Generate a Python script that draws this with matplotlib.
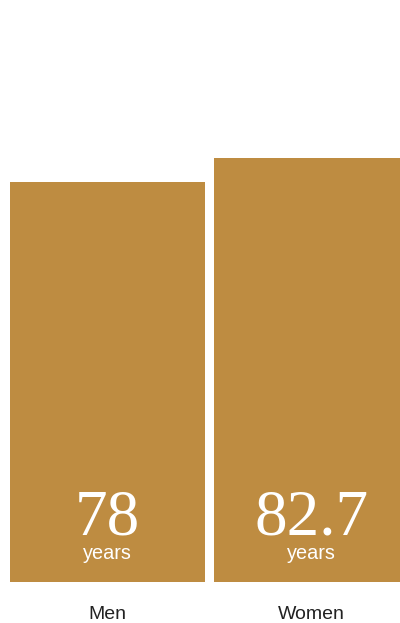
import numpy as np
import matplotlib.pyplot as plt

# Life expectancy at birth
groups = ["Men", "Women"]
life_expectancy = [78, 82.7]
value_labels = ["78", "82.7"]

BAR_COLOR = "#BE8C41"
TEXT_DARK = "#222222"

fig = plt.figure(figsize=(4, 6.23), dpi=100)
# axes covers the whole width, bars sit on a baseline 41px above the bottom
ax = fig.add_axes([0, 41 / 623, 1, 582 / 623])

x = np.arange(len(groups))
ax.bar(x, life_expectancy, width=0.956, color=BAR_COLOR, linewidth=0)

ax.set_xlim(-0.527, 1.434)
ax.set_ylim(0, 582 / (400 / 78))
ax.axis("off")

for xi, val, lab, name in zip(x, life_expectancy, value_labels, groups):
    ax.annotate(lab, xy=(xi, 0), xytext=(0, 34.3), textcoords="offset points",
                ha="center", va="baseline", color="white",
                fontsize=47, family="Liberation Serif")
    ax.annotate("years", xy=(xi, 0), xytext=(0, 16.6), textcoords="offset points",
                ha="center", va="baseline", color="white",
                fontsize=14.3, family="Liberation Sans")
    ax.annotate(name, xy=(xi, 0), xytext=(0, -26.6), textcoords="offset points",
                ha="center", va="baseline", color=TEXT_DARK,
                fontsize=14, family="Liberation Sans", annotation_clip=False)

fig.savefig("out.png", dpi=100, facecolor="white")
